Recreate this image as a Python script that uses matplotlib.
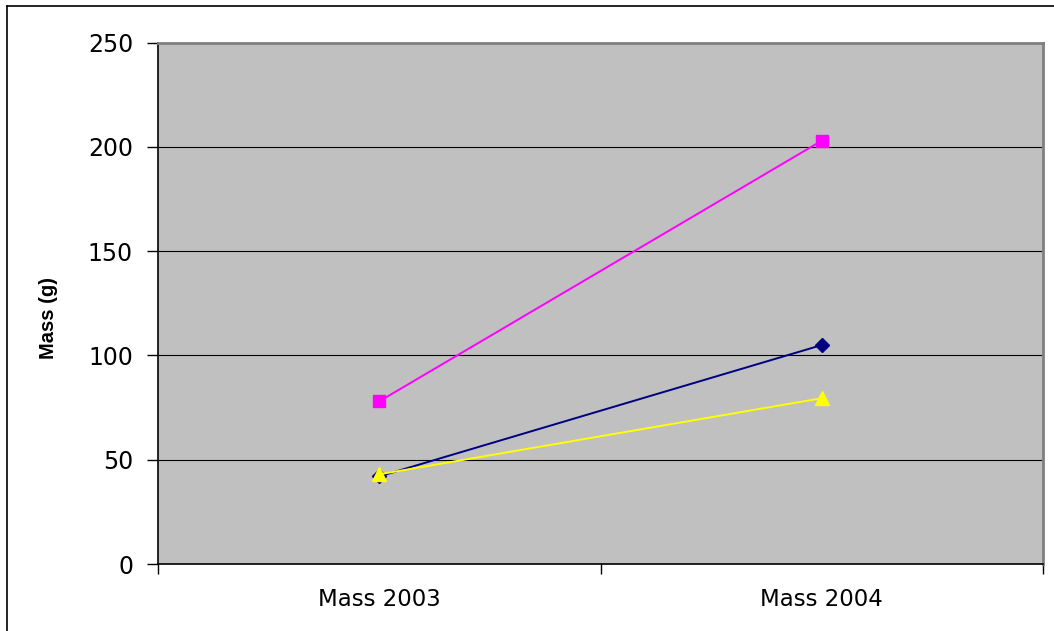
import matplotlib
matplotlib.use("Agg")
import matplotlib.pyplot as plt
from matplotlib.lines import Line2D

categories = ["Mass 2003", "Mass 2004"]
series_blue = [42, 105]
series_pink = [78, 203]
series_yellow = [43, 79.5]
y_ticks = [0, 50, 100, 150, 200, 250]

W, H = 1054, 631
fig = plt.figure(figsize=(W / 100, H / 100), dpi=100)
fig.patch.set_facecolor("white")

ax = fig.add_axes([158 / W, (H - 564) / H, (1043 - 158) / W, (564 - 42.7) / H])
ax.set_facecolor("#C0C0C0")

x = list(range(len(categories)))
ax.plot(x, series_blue, color="#000080", lw=1.4, marker="D", ms=7.5, zorder=3)
ax.plot(x, series_pink, color="#FF00FF", lw=1.4, marker="s", ms=8.5, zorder=3)
ax.plot(x, series_yellow, color="#FFFF00", lw=1.4, marker="^", ms=10, zorder=4)

ax.set_xlim(-0.5, 1.5)
ax.set_ylim(0, 250)
ax.set_yticks(y_ticks)
ax.set_yticklabels([str(v) for v in y_ticks], fontsize=17, family="DejaVu Sans")
ax.tick_params(axis="y", direction="out", length=8, width=1, pad=10, color="black")

ax.set_xticks(x)
ax.set_xticklabels(categories, fontsize=16.5, family="DejaVu Sans")
ax.tick_params(axis="x", which="major", length=0, pad=17)
ax.set_xticks([-0.5, 0.5, 1.5], minor=True)
ax.tick_params(axis="x", which="minor", direction="out", length=7, width=1, color="black")

ax.grid(axis="y", color="black", lw=0.8, zorder=1)
ax.set_axisbelow(True)

for s in ["left", "bottom"]:
    ax.spines[s].set_color("black")
    ax.spines[s].set_linewidth(1.2)
for s in ["top", "right"]:
    ax.spines[s].set_color("#808080")
    ax.spines[s].set_linewidth(2)

fig.text(49 / W, 1 - 318 / H, "Mass (g)", rotation=90, ha="center", va="center",
         fontsize=14.5, fontweight="bold", family="Liberation Sans")

# figure border (left and top edges visible)
fig.add_artist(Line2D([7 / W, 7 / W], [0, 1 - 6 / H], color="black", lw=1.2, transform=fig.transFigure))
fig.add_artist(Line2D([7 / W, 1], [1 - 6 / H, 1 - 6 / H], color="black", lw=1.2, transform=fig.transFigure))

fig.savefig("out.png", dpi=100)
